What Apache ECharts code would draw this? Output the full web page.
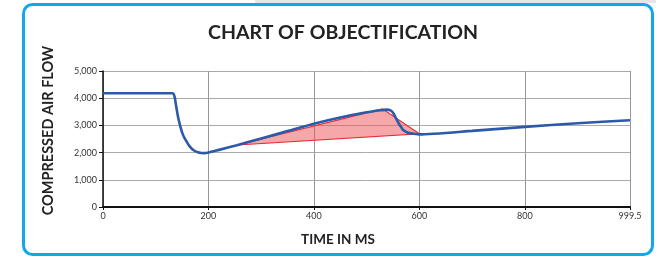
<!DOCTYPE html>
<html>
<head>
<meta charset="utf-8">
<script src="https://cdn.jsdelivr.net/npm/echarts@6/dist/echarts.min.js"></script>
<style>html,body{margin:0;padding:0;background:#fff}#c{width:656px;height:256px}</style>
</head>
<body>
<div id="c"></div>
<script>
const titleText = 'CHART OF OBJECTIFICATION';
const xAxisName = 'TIME IN MS';
const yAxisName = 'COMPRESSED AIR FLOW';
const xTicks = [0, 200, 400, 600, 800, 999.5];
const yTicks = [0, 1000, 2000, 3000, 4000, 5000];
const flowTime = [0, 132, 134, 136, 138, 141, 144, 147, 151, 155, 159, 164, 172, 180, 186, 192, 200, 220, 254, 300, 350, 400, 450, 500, 526, 538, 546, 551, 556, 561, 566, 570, 578, 589, 600, 700, 800, 900, 999.5];
const flowValue = [4180, 4180, 4150, 4030, 3800, 3450, 3170, 2940, 2690, 2520, 2390, 2240, 2085, 2010, 1985, 1980, 2000, 2100, 2270, 2520, 2790, 3060, 3290, 3480, 3555, 3580, 3540, 3440, 3250, 3070, 2920, 2820, 2730, 2695, 2670, 2800, 2945, 3080, 3190];
const triTime = [255, 530, 600];
const triValue = [2280, 3610, 2690];

const chart = echarts.init(document.getElementById('c'), null, {renderer: 'canvas'});
const flowData = flowTime.map((t, i) => [t, flowValue[i]]);
const triData = triTime.map((t, i) => [t, triValue[i]]);

chart.setOption({
  animation: false,
  title: {
    text: titleText, left: 338, top: 18, textAlign: 'center',
    textStyle: {fontFamily: 'Lato', fontWeight: 'bold', fontSize: 19.5, color: '#222'}
  },
  graphic: [
    {type: 'rect', shape: {x: 255, y: 0, width: 401, height: 3}, style: {fill: '#e6e6e6'}, z: -1},
    {type: 'rect', shape: {x: 23.5, y: 4.5, width: 629, height: 250, r: 9},
     style: {fill: 'none', stroke: '#0fa9ea', lineWidth: 3}, z: 10},
    {type: 'text', x: 48.5, y: 130.5, rotation: Math.PI / 2,
     style: {text: yAxisName, align: 'center', verticalAlign: 'middle',
       font: 'bold 14.5px Lato', fill: '#222'}},
    {type: 'text', x: 338, y: 240,
     style: {text: xAxisName, align: 'center', verticalAlign: 'middle',
       font: 'bold 13.5px Lato', fill: '#222'}}
  ],
  grid: {left: 103, right: 26, top: 71, bottom: 49, containLabel: false},
  xAxis: {
    type: 'value', min: 0, max: 999.5, interval: 200,
    axisLine: {lineStyle: {color: '#111', width: 2}},
    axisTick: {show: true, length: 3, lineStyle: {color: '#111'}},
    axisLabel: {fontFamily: 'Lato', fontSize: 9, color: '#333', margin: 5,
      formatter: v => { const m = xTicks.find(t => Math.abs(t - v) < 1e-6); return m === undefined ? '' : String(m); }},
    splitLine: {show: true, lineStyle: {color: ['#999'], width: 1}}
  },
  yAxis: {
    type: 'value', min: 0, max: 5000, interval: 1000,
    axisLine: {show: true, lineStyle: {color: '#111', width: 1.5}},
    axisTick: {show: true, length: 4, lineStyle: {color: '#111'}},
    axisLabel: {fontFamily: 'Lato', fontSize: 9, color: '#333', margin: 6,
      formatter: v => { const m = yTicks.find(t => t === v); return m === undefined ? '' : m.toLocaleString('en-US'); }},
    splitLine: {show: true, lineStyle: {color: '#aaa', width: 1}}
  },
  series: [
    {
      type: 'custom',
      data: [0],
      z: 2,
      renderItem: (params, api) => {
        const pts = triData.map(p => api.coord(p));
        return {type: 'polygon', shape: {points: pts},
          style: {fill: 'rgba(238,80,85,0.5)', stroke: '#ea2a30', lineWidth: 1.2}};
      }
    },
    {
      type: 'line', data: flowData, showSymbol: false, smooth: 0.2, z: 3,
      lineStyle: {color: '#2c5aa8', width: 2.6}
    }
  ]
});
</script>
</body>
</html>
